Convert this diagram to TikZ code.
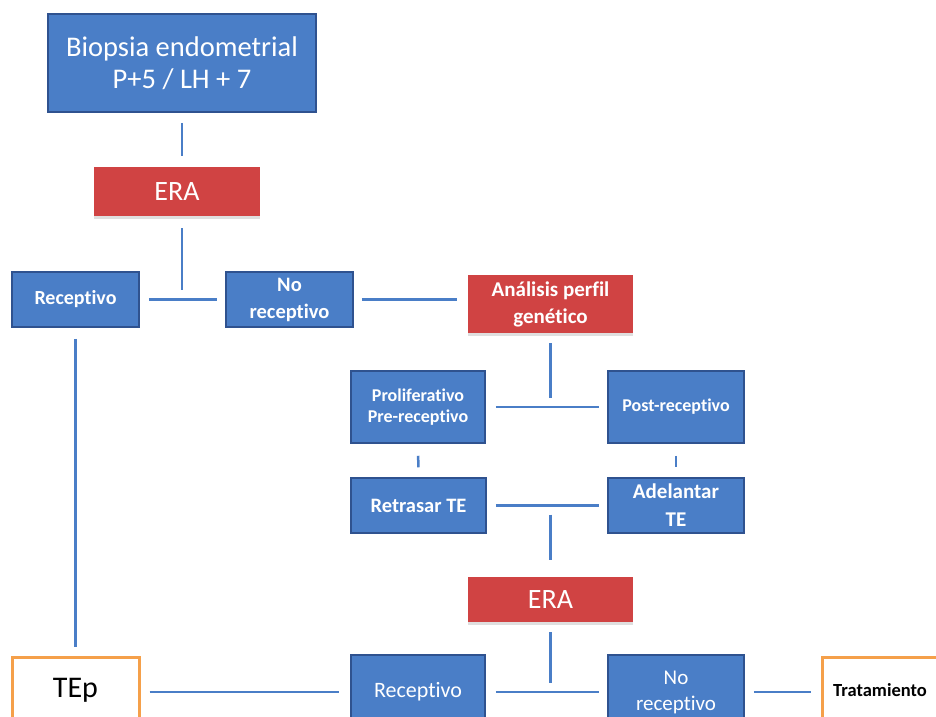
\documentclass[tikz,border=0pt]{standalone}
\usepackage{fontspec}
\setmainfont[Ligatures=NoCommon]{Carlito}
\usetikzlibrary{shadows}
\definecolor{bluefill}{HTML}{4A7EC7}
\definecolor{blueline}{HTML}{2F528F}
\definecolor{redfill}{HTML}{D04343}
\definecolor{orangeline}{HTML}{F5A04A}
\definecolor{connblue}{HTML}{4A7EC7}
\tikzset{
  bluebox/.style={draw=blueline, line width=1.5pt, fill=bluefill, text=white,
    inner sep=0pt, align=center},
  redbox/.style={fill=redfill, text=white, inner sep=0pt, align=center,
    drop shadow={opacity=0.25, shadow xshift=0pt, shadow yshift=-3pt}},
  orangebox/.style={draw=orangeline, line width=3pt, fill=white, text=black,
    inner sep=0pt, align=center},
  conn/.style={draw=connblue, line width=2.5pt},
}
\begin{document}
\begin{tikzpicture}[x=1pt,y=-1pt]
\clip (0,0) rectangle (936,716);
\fill[white] (0,0) rectangle (936,716);
% nodes
\node[bluebox, minimum width=268pt, minimum height=98pt,
  font=\fontsize{28.5}{32}\selectfont] (bio) at (182,63) {Biopsia endometrial\\P+5 / LH + 7};
\node[redbox, minimum width=166pt, minimum height=49pt,
  font=\fontsize{28}{30}\selectfont] (era1) at (177,191.5) {ERA};
\node[bluebox, minimum width=127pt, minimum height=55pt,
  font=\bfseries\fontsize{20}{24}\selectfont] (rec1) at (75.5,299.5) {Receptivo};
\node[bluebox, minimum width=127pt, minimum height=55pt,
  font=\bfseries\fontsize{20.5}{27}\selectfont] (norec1) at (289.5,299.5) {No\\receptivo};
\node[redbox, minimum width=165pt, minimum height=58pt,
  font=\bfseries\fontsize{21}{27}\selectfont] (ana) at (550.5,304) {Análisis perfil\\genético};
\node[bluebox, minimum width=134pt, minimum height=72pt,
  font=\bfseries\fontsize{18}{21}\selectfont] (prolif) at (418,407) {Proliferativo\\Pre-receptivo};
\node[bluebox, minimum width=136pt, minimum height=72pt,
  font=\bfseries\fontsize{18}{21}\selectfont] (post) at (676,407) {Post-receptivo};
\node[bluebox, minimum width=135pt, minimum height=55pt,
  font=\bfseries\fontsize{20.5}{24}\selectfont] (retr) at (418.5,505.5) {Retrasar TE};
\node[bluebox, minimum width=136pt, minimum height=55pt,
  font=\bfseries\fontsize{21}{28}\selectfont] (adel) at (676,505.5) {Adelantar\\TE};
\node[redbox, minimum width=165pt, minimum height=45pt,
  font=\fontsize{28}{30}\selectfont] (era2) at (550.5,599.5) {ERA};
\node[orangebox, minimum width=127pt, minimum height=66pt,
  font=\fontsize{30}{34}\selectfont] (tep) at (75.5,690) {TEp};
\node[bluebox, minimum width=134pt, minimum height=74pt,
  font=\fontsize{22}{26}\selectfont] (rec2) at (418,692) {Receptivo};
\node[bluebox, minimum width=136pt, minimum height=74pt,
  font=\fontsize{21}{26}\selectfont] (norec2) at (676,692) {No\\receptivo};
\node[orangebox, minimum width=116pt, minimum height=66pt,
  font=\bfseries\fontsize{18.5}{22}\selectfont] (trat) at (880,690) {Tratamiento};
% connectors
\draw[conn, shorten <=10pt, shorten >=11pt] (bio.south) -- (bio.south |- era1.north);
\draw[conn, shorten <=12pt, shorten >=10pt] (bio.south |- era1.south) -- (bio.south |- rec1);
\draw[conn, shorten <=9pt, shorten >=8pt] (rec1.east) -- (norec1.west);
\draw[conn, shorten <=8pt, shorten >=11pt] (norec1.east) -- (norec1.east -| ana.west);
\draw[conn, shorten <=10pt, shorten >=9pt] (ana.south) -- (ana.south |- prolif);
\draw[conn, shorten <=10pt, shorten >=8pt] (prolif.east) -- (post.west);
\draw[conn, shorten <=12pt, shorten >=10pt] (prolif.south) -- (retr.north);
\draw[conn, shorten <=12pt, shorten >=10pt] (post.south) -- (adel.north);
\draw[conn, shorten <=9pt, shorten >=8pt] (retr.east) -- (adel.west);
\draw[conn, shorten <=9pt, shorten >=17pt] (ana.south |- retr) -- (era2.north);
\draw[conn, shorten <=10pt, shorten >=9pt] (era2.south) -- (era2.south |- rec2);
\draw[conn, shorten <=11pt, shorten >=9pt] (rec1.south) -- (tep.north);
\draw[conn, shorten <=9pt, shorten >=11pt] (tep.east |- rec2) -- (rec2.west);
\draw[conn, shorten <=10pt, shorten >=8pt] (rec2.east) -- (norec2.west);
\draw[conn, shorten <=9pt, shorten >=10pt] (norec2.east) -- (norec2.east -| trat.west);
\end{tikzpicture}
\end{document}
